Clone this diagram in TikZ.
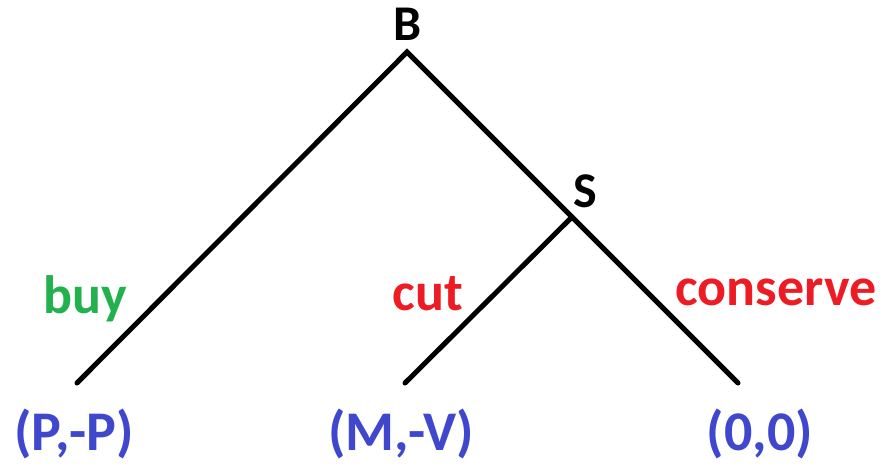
\documentclass[tikz,border=0pt]{standalone}
\usepackage{fontspec}
\setmainfont{Carlito}
\definecolor{pgreen}{RGB}{34,177,76}
\definecolor{pred}{RGB}{237,28,36}
\definecolor{pblue}{RGB}{63,72,204}
\begin{document}
\begin{tikzpicture}[x=1pt,y=-1pt,
  edge/.style={line width=5pt,line cap=round,black},
  player/.style={anchor=base,inner sep=0pt,font=\fontsize{50}{60}\selectfont\bfseries},
  act/.style={anchor=base,inner sep=0pt,font=\fontsize{54}{64}\selectfont\bfseries},
  pay/.style={anchor=base,inner sep=0pt,text=pblue,font=\fontsize{56}{66}\selectfont\bfseries}]
\useasboundingbox (0,0) rectangle (885,466);
\coordinate (root) at (407,52);
\coordinate (sj) at (572,217);
\coordinate (l1) at (77,383);
\coordinate (l2) at (405,383);
\coordinate (l3) at (738,383);
\node[player] (B) at (408,40) {B};
\node[player] (S) at (585,207) {S};
\draw[edge] (l1) -- (root) -- (l3);
\draw[edge] (sj) -- (l2);
\node[act,text=pgreen] (buy) at (85,313) {buy};
\node[act,text=pred] (cut) at (428,310) {cut};
\node[act,text=pred] (conserve) at (776,305) {conserve};
\node[pay] (p1) at (74,450) {(P,-P)};
\node[pay] (p2) at (401,450) {(M,-V)};
\node[pay] (p3) at (760,450) {(0,0)};
\end{tikzpicture}
\end{document}
